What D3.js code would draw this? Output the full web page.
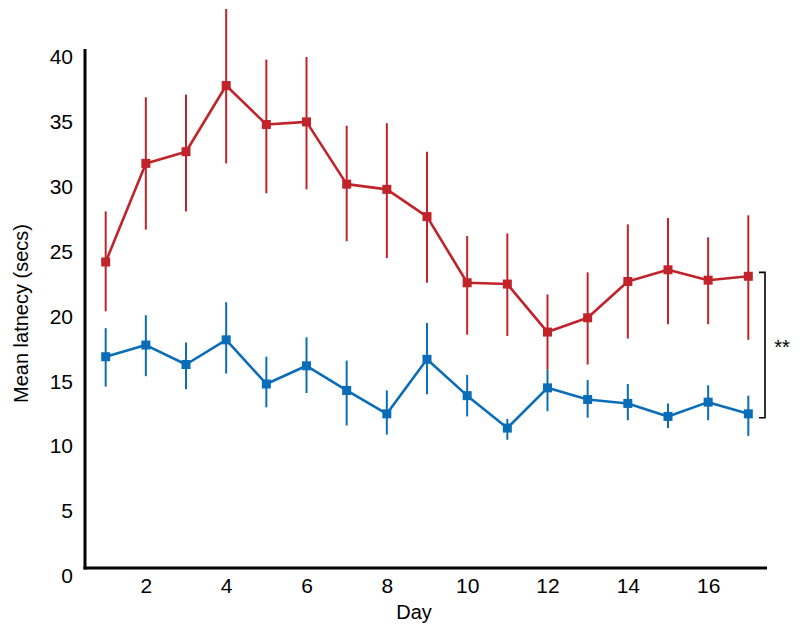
<!DOCTYPE html>
<html>
<head>
<meta charset="utf-8">
<script src="https://cdn.jsdelivr.net/npm/d3@7"></script>
<style>
  html, body { margin: 0; padding: 0; background: #fff; }
  svg { display: block; }
  text { font-family: "Liberation Sans", Arial, sans-serif; fill: #000; }
</style>
</head>
<body>
<svg id="chart" width="800" height="637"></svg>
<script>
// ---- data ----
const days = [1,2,3,4,5,6,7,8,9,10,11,12,13,14,15,16,17];
const redMean  = [24.2,31.8,32.7,37.8,34.8,35.0,30.2,29.8,27.7,22.6,22.5,18.8,19.9,22.7,23.6,22.8,23.1];
const redHigh  = [28.1,36.9,37.1,43.7,39.8,40.0,34.7,34.9,32.7,26.2,26.4,21.7,23.4,27.1,27.6,26.1,27.8];
const redLow   = [20.4,26.7,28.1,31.8,29.5,29.8,25.8,24.5,22.6,18.6,18.5,15.9,16.3,18.3,19.4,19.4,18.2];
const blueMean = [16.9,17.8,16.3,18.2,14.8,16.2,14.3,12.5,16.7,13.9,11.4,14.5,13.6,13.3,12.3,13.4,12.5];
const blueHigh = [19.1,20.1,18.0,21.1,16.9,18.4,16.6,14.3,19.5,15.5,12.1,15.9,15.1,14.8,13.3,14.7,13.9];
const blueLow  = [14.6,15.4,14.4,15.6,13.0,14.1,11.6,10.9,14.0,12.3,10.5,12.7,12.2,12.0,11.4,12.0,10.8];
const xTicks = [2,4,6,8,10,12,14,16];
const yTicks = [0,5,10,15,20,25,30,35,40];
const bracket = [23.4, 12.2];
const sigLabel = "**";

const svg = d3.select("#chart");
const frame = { left: 85, right: 767, top: 49, bottom: 568 };

const x = d3.scaleLinear().domain([0.5, 17.5]).range([85.6, 768.4]);
const y = d3.scaleLinear().domain([0, 40]).range([576, 57]);

const RED = "#c1232b", BLUE = "#0a6db8";

// axes frame
svg.append("line").attr("x1", frame.left).attr("x2", frame.left)
  .attr("y1", frame.top).attr("y2", frame.bottom + 1.5)
  .attr("stroke", "#000").attr("stroke-width", 3);
svg.append("line").attr("x1", frame.left - 1.5).attr("x2", frame.right)
  .attr("y1", frame.bottom).attr("y2", frame.bottom)
  .attr("stroke", "#000").attr("stroke-width", 3);

// y tick labels via d3 axis
const yAxis = svg.append("g").attr("transform", `translate(${frame.left - 12},0)`)
  .call(d3.axisLeft(y).tickValues(yTicks).tickSize(0).tickPadding(0));
yAxis.select(".domain").remove();
yAxis.selectAll("text").style("font-size", "21px").style("font-family", "Liberation Sans, Arial, sans-serif")
  .attr("fill", "#000");

// x tick labels
const xAxis = svg.append("g").attr("transform", `translate(0,${frame.bottom + 10})`)
  .call(d3.axisBottom(x).tickValues(xTicks).tickSize(0).tickPadding(0));
xAxis.select(".domain").remove();
xAxis.selectAll("text").style("font-size", "21px").style("font-family", "Liberation Sans, Arial, sans-serif")
  .attr("fill", "#000");

// axis titles
svg.append("text").attr("x", (frame.left + frame.right) / 2 - 12).attr("y", 619)
  .attr("text-anchor", "middle").style("font-size", "20px").text("Day");
svg.append("text").attr("transform", `translate(28,${(frame.top + frame.bottom) / 2 + 5}) rotate(-90)`)
  .attr("text-anchor", "middle").style("font-size", "20px").text("Mean latnecy (secs)");

function series(mean, lo, hi, color) {
  const g = svg.append("g");
  g.selectAll("line.err").data(days).enter().append("line")
    .attr("x1", (d) => x(d)).attr("x2", (d) => x(d))
    .attr("y1", (d, i) => y(hi[i])).attr("y2", (d, i) => y(lo[i]))
    .attr("stroke", color).attr("stroke-width", 2);
  const line = d3.line().x((d) => x(d)).y((d, i) => y(mean[i]));
  g.append("path").datum(days).attr("d", line)
    .attr("fill", "none").attr("stroke", color).attr("stroke-width", 2.6)
    .attr("stroke-linejoin", "round");
  const s = 9;
  g.selectAll("rect").data(days).enter().append("rect")
    .attr("x", (d) => x(d) - s / 2).attr("y", (d, i) => y(mean[i]) - s / 2)
    .attr("width", s).attr("height", s).attr("fill", color);
}
series(blueMean, blueLow, blueHigh, BLUE);
series(redMean, redLow, redHigh, RED);

// significance bracket
const bx = 765;
svg.append("path")
  .attr("d", `M${bx - 6},${y(bracket[0])} H${bx} V${y(bracket[1])} H${bx - 6}`)
  .attr("fill", "none").attr("stroke", "#000").attr("stroke-width", 1.6);
svg.append("text").attr("x", 782).attr("y", (y(bracket[0]) + y(bracket[1])) / 2 + 9)
  .attr("text-anchor", "middle").style("font-size", "20px").text(sigLabel);
</script>
</body>
</html>
